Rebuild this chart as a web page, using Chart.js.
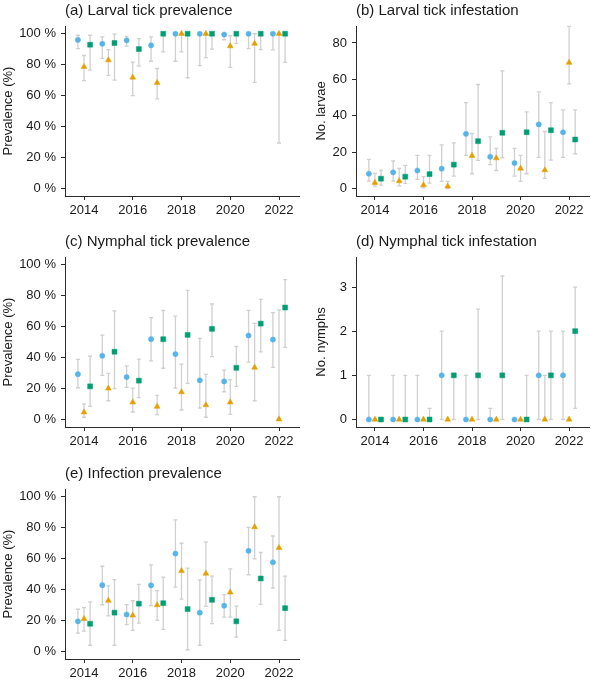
<!DOCTYPE html>
<html>
<head>
<meta charset="utf-8">
<script src="https://cdn.jsdelivr.net/npm/chart.js@4.4.1/dist/chart.umd.min.js"></script>
<style>
  body { margin: 0; background: #fff; width: 591px; height: 680px; position: relative; overflow: hidden; }
  .panel { position: absolute; }
</style>
</head>
<body>
<div class="panel" style="left:0;top:0"><canvas id="panelA" width="305" height="224"></canvas></div>
<div class="panel" style="left:305px;top:0"><canvas id="panelB" width="286" height="224"></canvas></div>
<div class="panel" style="left:0;top:231px"><canvas id="panelC" width="305" height="224"></canvas></div>
<div class="panel" style="left:305px;top:231px"><canvas id="panelD" width="286" height="224"></canvas></div>
<div class="panel" style="left:0;top:463px"><canvas id="panelE" width="305" height="224"></canvas></div>
<script>
// years and ticks
const years = [2014, 2015, 2016, 2017, 2018, 2019, 2020, 2021, 2022];
const xTickYears = [2014, 2016, 2018, 2020, 2022];
const pctTicks = [0, 20, 40, 60, 80, 100];
const larvaeTicks = [0, 20, 40, 60, 80];
const nymphTicks = [0, 1, 2, 3];

// (a) larval tick prevalence (%)
const larvPrevCirc   = [96, 93.5, 95.7, 92.5, 100, 100, 99.5, 100, 100];
const larvPrevCircLo = [90.4, 84, 92, 82.2, 82.2, 79.4, 96.1, 90.4, 89.5];
const larvPrevCircHi = [99, 98, 98.3, 98, 100, 100, 100, 100, 100];
const larvPrevTri    = [78.6, 82.9, 71.7, 68.3, 100, 100, 92, 93.6, 100];
const larvPrevTriLo  = [69.6, 73, 60, 57.8, 88.2, 84.6, 78.2, 68.5, 29.3];
const larvPrevTriHi  = [85.9, 89.7, 81.6, 77.5, 100, 100, 98.7, 100, 100];
const larvPrevSq     = [92.9, 94, 90.1, 100, 100, 100, 100, 100, 100];
const larvPrevSqLo   = [76.4, 70, 79, 88.2, 71.5, 90.1, 93.8, 89.7, 81.4];
const larvPrevSqHi   = [99, 99.8, 96.8, 100, 100, 100, 100, 100, 100];

// (b) larval tick infestation (no. larvae)
const larvNoCirc   = [8.2, 9, 10, 11, 30.1, 17.5, 14.1, 35.3, 31];
const larvNoCircLo = [4.2, 4.2, 5.1, 4, 18.3, 13.2, 6.9, 17.2, 17.2];
const larvNoCircHi = [16.1, 15.2, 18.3, 24.1, 47.3, 28.5, 22.1, 53.2, 43.3];
const larvNoTri    = [3.3, 4.2, 2, 1.3, 18.1, 16.8, 11.1, 10.2, 69.2];
const larvNoTriLo  = [1.5, 1.6, 0.5, 0, 8.2, 10, 4, 5.7, 57.5];
const larvNoTriHi  = [8.4, 11.1, 6.6, 4, 30.3, 22.1, 18.3, 31.4, 89.1];
const larvNoSq     = [5.5, 6.6, 8, 13.2, 26.1, 30.7, 31, 32.1, 27];
const larvNoSqLo   = [2, 2.9, 3.1, 6.9, 15.5, 17, 8.2, 15.7, 19.2];
const larvNoSqHi   = [10.2, 12.8, 18.3, 25.2, 57.2, 64.7, 42.2, 47.3, 43.3];

// (c) nymphal tick prevalence (%)
const nymPrevCirc   = [29.2, 41.1, 27.3, 51.8, 42.2, 25.2, 24.5, 54.2, 51.6];
const nymPrevCircLo = [20.4, 28.4, 20.6, 37.8, 20.2, 7.3, 17.8, 37, 33.6];
const nymPrevCircHi = [38.7, 54.4, 34.6, 65.8, 66.7, 52.3, 31.8, 70.5, 69];
const nymPrevTri    = [4.5, 20, 11, 8.2, 17.6, 9.2, 11, 33.5, 0];
const nymPrevTriLo  = [1.3, 12, 4.7, 3, 6, 1.3, 3.2, 12, 0];
const nymPrevTriHi  = [9.9, 29.7, 20.2, 15.5, 35.7, 29, 25.6, 62, 70.8];
const nymPrevSq     = [21.3, 43.7, 25, 51.8, 54.6, 58.5, 33.3, 61.9, 72.3];
const nymPrevSqLo   = [8.4, 19.8, 14, 33, 23.2, 40.6, 21.3, 43.6, 46.5];
const nymPrevSqHi   = [40.9, 70.1, 38.9, 70.5, 83.4, 74.6, 47.1, 77.6, 90.3];

// (d) nymphal tick infestation (no. nymphs)
const nymNoCirc   = [0, 0, 0, 1, 0, 0, 0, 1, 1];
const nymNoCircLo = [0, 0, 0, 0, 0, 0, 0, 0, 0];
const nymNoCircHi = [1, 1, 1, 2, 1, 0.25, 0, 2, 2];
const nymNoTri    = [0, 0, 0, 0, 0, 0, 0, 0, 0];
const nymNoTriLo  = [0, 0, 0, 0, 0, 0, 0, 0, 0];
const nymNoTriHi  = [0, 0, 0, 0, 0, 0, 0, 1, 0];
const nymNoSq     = [0, 0, 0, 1, 1, 1, 0, 1, 2];
const nymNoSqLo   = [0, 0, 0, 0, 0, 0, 0, 0, 0.25];
const nymNoSqHi   = [0, 1, 0.25, 1, 2.5, 3.25, 1, 2, 3];

// (e) infection prevalence (%)
const infPrevCirc   = [19.4, 42.8, 23.8, 42.7, 63.2, 25, 29.5, 65, 57.6];
const infPrevCircLo = [11.8, 30.1, 17.3, 29.5, 41.5, 3.9, 22.1, 49.5, 40.9];
const infPrevCircHi = [27.2, 55, 30.2, 55.9, 85, 46.2, 36.6, 80.2, 74.6];
const infPrevTri    = [21, 32.8, 23.2, 29.9, 52, 50.3, 38.1, 80.4, 66.9];
const infPrevTriLo  = [13, 22.9, 13.5, 20, 33.8, 29, 22.1, 59.8, 13.5];
const infPrevTriHi  = [28.3, 42.3, 32.7, 39.3, 69.9, 70.8, 53.3, 100, 100];
const infPrevSq     = [17.8, 25, 30.8, 31.1, 27.3, 33.3, 19.4, 47.1, 27.9];
const infPrevSqLo   = [3.9, 3.9, 18.2, 14.2, 1, 17.9, 9.2, 30.3, 7.1];
const infPrevSqHi   = [31.9, 46.3, 43.3, 48, 53.8, 48.6, 29.2, 63.9, 48.6];

const fontFamily = "'Liberation Sans', Arial, Helvetica, sans-serif";
const textColor = '#1a1a1a';
const axisColor = '#2b2b2b';

// 三つの系列の見た目（横にずらして並べる）
const seriesStyle = [
  { color: '#56B4E9', shape: 'circle', radius: 2.6, dodge: -0.25 },
  { color: '#E69F00', shape: 'triangle', radius: 3.4, dodge: 0 },
  { color: '#009E73', shape: 'rect', radius: 3.5, dodge: 0.25 }
];

// エラーバーを点の下に描く
const errorBars = {
  id: 'errorBars',
  beforeDatasetsDraw(chart) {
    const { ctx } = chart;
    const y = chart.scales.y;
    ctx.save();
    ctx.strokeStyle = '#d0d0d0';
    ctx.lineWidth = 1.3;
    chart.data.datasets.forEach((ds, i) => {
      const meta = chart.getDatasetMeta(i);
      ds.lo.forEach((lo, j) => {
        const hi = ds.hi[j];
        if (!(hi > lo)) return;
        const px = meta.data[j].x;
        const top = y.getPixelForValue(hi);
        const bot = y.getPixelForValue(lo);
        ctx.beginPath();
        ctx.moveTo(px, top); ctx.lineTo(px, bot);
        ctx.moveTo(px - 2, top); ctx.lineTo(px + 2, top);
        ctx.moveTo(px - 2, bot); ctx.lineTo(px + 2, bot);
        ctx.stroke();
      });
    });
    ctx.restore();
  }
};

function makePanel(id, title, yTitle, yRange, yTicks, fmt, series, left) {
  const datasets = series.map((s, k) => {
    const st = seriesStyle[k];
    return {
      data: years.map((yr, j) => ({ x: yr + st.dodge, y: s[0][j] })),
      lo: s[1],
      hi: s[2],
      showLine: false,
      pointStyle: st.shape,
      pointRadius: st.radius,
      pointBackgroundColor: st.color,
      pointBorderColor: st.color,
      pointBorderWidth: 0.5
    };
  });

  new Chart(document.getElementById(id), {
    type: 'scatter',
    data: { datasets },
    plugins: [errorBars],
    options: {
      responsive: false,
      animation: false,
      events: [],
      layout: { padding: { left: 0, right: left ? 6 : 2, top: 0, bottom: 0 }, autoPadding: false },
      plugins: {
        legend: { display: false },
        tooltip: { enabled: false },
        title: {
          display: true,
          text: title,
          align: 'start',
          fullSize: false,
          color: textColor,
          font: { family: fontFamily, size: 15, weight: 'normal' },
          padding: { top: 2, bottom: 6 }
        }
      },
      scales: {
        x: {
          type: 'linear',
          min: 2013.22,
          max: 2022.82,
          afterBuildTicks: s => { s.ticks = xTickYears.map(v => ({ value: v })); },
          afterFit: s => { s.height = 28; },
          grid: { display: true, drawOnChartArea: false, tickLength: 4, tickColor: axisColor, tickWidth: 1 },
          border: { display: true, color: axisColor, width: 1 },
          ticks: {
            color: textColor,
            font: { family: fontFamily, size: 13 },
            padding: 3,
            maxRotation: 0,
            callback: v => String(v)
          }
        },
        y: {
          min: yRange[0],
          max: yRange[1],
          afterBuildTicks: s => { s.ticks = yTicks.map(v => ({ value: v })); },
          afterFit: s => { s.width = left ? 65 : 51; },
          grid: { display: true, drawOnChartArea: false, tickLength: 4, tickColor: axisColor, tickWidth: 1 },
          border: { display: true, color: axisColor, width: 1 },
          ticks: {
            color: textColor,
            font: { family: fontFamily, size: 13 },
            padding: 5,
            callback: fmt
          },
          title: {
            display: true,
            text: yTitle,
            color: textColor,
            font: { family: fontFamily, size: 13 },
            padding: { top: left ? 0.5 : 9, bottom: 0 }
          }
        }
      }
    }
  });
}

const pct = v => v + ' %';
const num = v => String(v);

makePanel('panelA', '(a) Larval tick prevalence', 'Prevalence (%)', [-5, 105], pctTicks, pct, [
  [larvPrevCirc, larvPrevCircLo, larvPrevCircHi],
  [larvPrevTri, larvPrevTriLo, larvPrevTriHi],
  [larvPrevSq, larvPrevSqLo, larvPrevSqHi]
], true);

makePanel('panelB', '(b) Larval tick infestation', 'No. larvae', [-4, 89.3], larvaeTicks, num, [
  [larvNoCirc, larvNoCircLo, larvNoCircHi],
  [larvNoTri, larvNoTriLo, larvNoTriHi],
  [larvNoSq, larvNoSqLo, larvNoSqHi]
], false);

makePanel('panelC', '(c) Nymphal tick prevalence', 'Prevalence (%)', [-5, 105], pctTicks, pct, [
  [nymPrevCirc, nymPrevCircLo, nymPrevCircHi],
  [nymPrevTri, nymPrevTriLo, nymPrevTriHi],
  [nymPrevSq, nymPrevSqLo, nymPrevSqHi]
], true);

makePanel('panelD', '(d) Nymphal tick infestation', 'No. nymphs', [-0.17, 3.68], nymphTicks, num, [
  [nymNoCirc, nymNoCircLo, nymNoCircHi],
  [nymNoTri, nymNoTriLo, nymNoTriHi],
  [nymNoSq, nymNoSqLo, nymNoSqHi]
], false);

makePanel('panelE', '(e) Infection prevalence', 'Prevalence (%)', [-5, 105], pctTicks, pct, [
  [infPrevCirc, infPrevCircLo, infPrevCircHi],
  [infPrevTri, infPrevTriLo, infPrevTriHi],
  [infPrevSq, infPrevSqLo, infPrevSqHi]
], true);
</script>
</body>
</html>
